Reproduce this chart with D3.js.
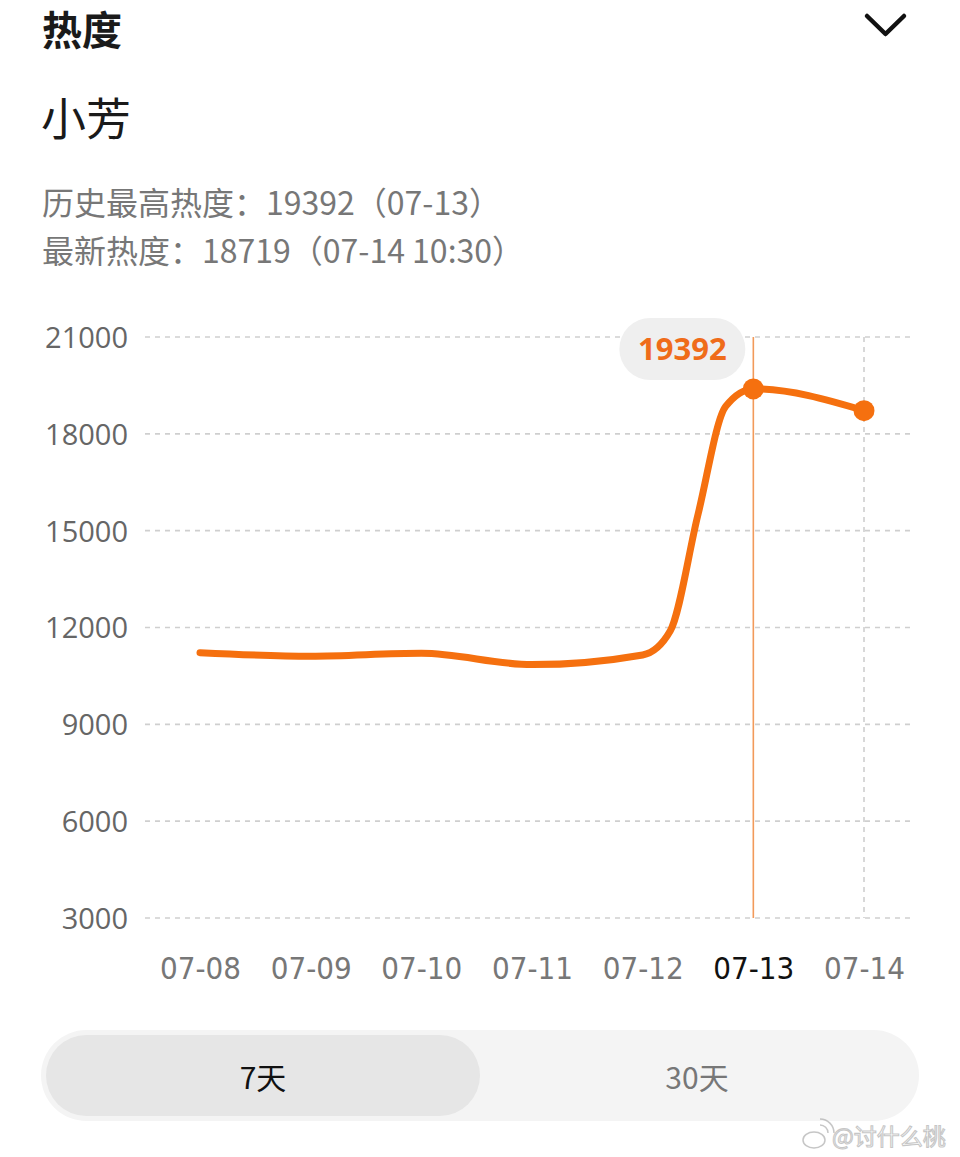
<!DOCTYPE html>
<meta charset="utf-8">
<style>

body {
    margin: 0;
    background: #fff;
}

.page {
    font-family: "Noto Sans CJK SC", "Noto Sans", sans-serif;
}

.grid line {
    stroke: #cfcfcf;
    stroke-width: 1.6;
    stroke-dasharray: 5 5;
}

.axis--y text {
    font-family: "Open Sans", sans-serif;
    font-size: 29px;
    fill: #666;
}

.axis--x text {
    font-family: "DejaVu Sans Condensed", "Roboto", sans-serif;
    font-size: 31px;
    fill: #777;
}

.heat-line {
    fill: none;
    stroke: #f5700f;
    stroke-width: 7;
    stroke-linecap: round;
    stroke-linejoin: round;
}

</style>
<svg class="page" width="960" height="1157"></svg>
<script src="https://d3js.org/d3.v7.min.js"></script>
<script>

// tick labels
var days = ["07-08", "07-09", "07-10", "07-11", "07-12", "07-13", "07-14"];
var yTicks = [3000, 6000, 9000, 12000, 15000, 18000, 21000];

// samples (day offset from 07-08, extra reads on 07-12 where it climbs)
var sampleDay = [0, 1, 2, 3, 4, 4.25, 4.5, 4.75, 5, 6];
var heat = [11220, 11110, 11200, 10850, 11150, 11900, 15500, 18850, 19392, 18719];

var peakValue = 19392, peakDay = 5, latestDay = 6, selectedDay = 5;

var svg = d3.select("svg");

var x = d3.scaleLinear().domain([0, days.length - 1]).range([200, 864]),
    y = d3.scaleLinear().domain([3000, 21000]).range([918, 337]);

var points = sampleDay.map(function(d, i) { return {day: d, value: heat[i]}; });

// header
svg.append("text")
    .attr("x", 42).attr("y", 45)
    .style("font-size", "40px").style("font-weight", 700).style("fill", "#1a1a1a")
    .text("热度");

svg.append("path")
    .attr("d", "M867,16 L885.5,34 L904,16")
    .style("fill", "none").style("stroke", "#111").style("stroke-width", 4.5)
    .style("stroke-linecap", "round").style("stroke-linejoin", "round");

svg.append("text")
    .attr("x", 41).attr("y", 136)
    .style("font-size", "45px").style("font-weight", 400).style("fill", "#1a1a1a")
    .text("小芳");

svg.append("text")
    .attr("x", 42).attr("y", 215)
    .style("font-size", "32px").style("fill", "#777")
    .text("历史最高热度：19392（07-13）");

svg.append("text")
    .attr("x", 42).attr("y", 263)
    .style("font-size", "32px").style("fill", "#777")
    .text("最新热度：18719（07-14 10:30）");

// grid
svg.append("g")
    .attr("class", "grid")
    .selectAll("line")
    .data(yTicks)
    .enter().append("line")
    .attr("x1", 145).attr("x2", 915)
    .attr("y1", function(d) { return y(d); })
    .attr("y2", function(d) { return y(d); });

svg.append("g")
    .attr("class", "axis axis--y")
    .attr("transform", "translate(128,0)")
    .call(d3.axisLeft(y).tickValues(yTicks).tickSize(0).tickPadding(0).tickFormat(d3.format("d")))
    .call(function(g) { g.select(".domain").remove(); })
    .selectAll("text").attr("dy", "0.36em");

svg.append("g")
    .attr("class", "axis axis--x")
    .attr("transform", "translate(0,979)")
    .call(d3.axisBottom(x).tickValues(d3.range(days.length)).tickSize(0).tickPadding(0)
        .tickFormat(function(d) { return days[d]; }))
    .call(function(g) { g.select(".domain").remove(); })
    .selectAll("text")
    .attr("dy", 0)
    .style("fill", function(d) { return d === selectedDay ? "#111" : "#777"; });

// guide lines
svg.append("line")
    .attr("x1", x(latestDay)).attr("x2", x(latestDay))
    .attr("y1", y(21000)).attr("y2", y(3000))
    .style("stroke", "#cfcfcf").style("stroke-width", 1.6).style("stroke-dasharray", "5 5");

svg.append("line")
    .attr("x1", x(selectedDay)).attr("x2", x(selectedDay))
    .attr("y1", y(21000)).attr("y2", y(3000))
    .style("stroke", "#f29a5a").style("stroke-width", 1.6);

// line
var line = d3.line()
    .x(function(d) { return x(d.day); })
    .y(function(d) { return y(d.value); })
    .curve(d3.curveMonotoneX);

svg.append("path")
    .datum(points)
    .attr("class", "heat-line")
    .attr("d", line);

svg.selectAll(".dot")
    .data(points.filter(function(d) { return d.day === peakDay || d.day === latestDay; }))
    .enter().append("circle")
    .attr("class", "dot")
    .attr("cx", function(d) { return x(d.day); })
    .attr("cy", function(d) { return y(d.value); })
    .attr("r", 10.5)
    .style("fill", "#f5700f");

// tooltip
var tip = svg.append("g")
    .attr("transform", "translate(" + (x(peakDay) - 71) + "," + 349 + ")");

tip.append("rect")
    .attr("x", -63).attr("y", -31).attr("width", 126).attr("height", 62)
    .attr("rx", 31).attr("ry", 31)
    .style("fill", "#efefef");

tip.append("text")
    .attr("text-anchor", "middle").attr("y", 11)
    .style("font-family", "'Open Sans', sans-serif")
    .style("font-size", "31px").style("font-weight", 700).style("fill", "#ef6c1a")
    .text(peakValue);

// range switch
svg.append("rect")
    .attr("x", 41).attr("y", 1030).attr("width", 878).attr("height", 91)
    .attr("rx", 45.5)
    .style("fill", "#f4f4f4");

svg.append("rect")
    .attr("x", 46).attr("y", 1035).attr("width", 434).attr("height", 81)
    .attr("rx", 40.5)
    .style("fill", "#e6e6e6");

svg.append("text")
    .attr("x", 263).attr("y", 1089).attr("text-anchor", "middle")
    .style("font-size", "30px").style("fill", "#111")
    .text("7天");

svg.append("text")
    .attr("x", 697).attr("y", 1089).attr("text-anchor", "middle")
    .style("font-size", "30px").style("fill", "#777")
    .text("30天");

// watermark
var wm = svg.append("g").style("opacity", 0.55);

wm.append("ellipse")
    .attr("cx", 814).attr("cy", 1140).attr("rx", 11).attr("ry", 8)
    .style("fill", "#fff").style("stroke", "#999").style("stroke-width", 1.5);

wm.append("path")
    .attr("d", "M820,1125 a8,8 0 0 1 8,8 M820,1119 a14,14 0 0 1 14,14")
    .style("fill", "none").style("stroke", "#999").style("stroke-width", 1.5);

wm.append("text")
    .attr("x", 832).attr("y", 1145)
    .style("font-size", "23px").style("fill", "#fff")
    .style("stroke", "#999").style("stroke-width", 1.1)
    .text("@讨什么桃");

</script>
